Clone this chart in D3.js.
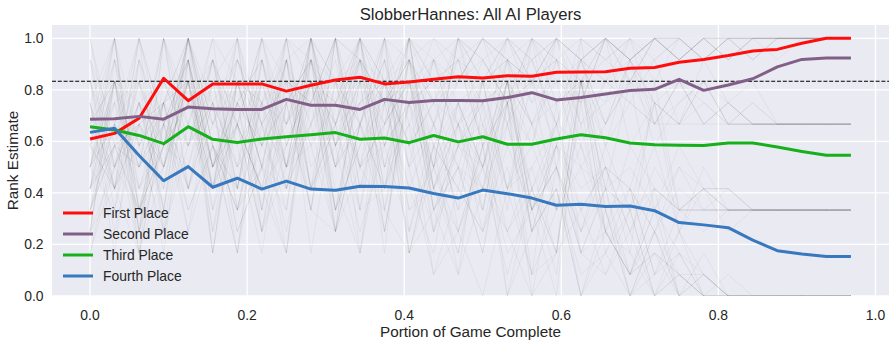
<!DOCTYPE html>
<html><head><meta charset="utf-8">
<script src="https://cdn.jsdelivr.net/npm/d3@7"></script>
<style>
html,body{margin:0;padding:0;background:#fff;}
text{font-family:"Liberation Sans",Arial,sans-serif;fill:#262626;}
</style></head>
<body><svg id="chart" width="895" height="343"></svg>
<script>
// ---- data ----
const nSteps = 32; // x = i/32
const firstPlace  = [0.609,0.631,0.690,0.845,0.758,0.823,0.823,0.823,0.795,0.818,0.838,0.849,0.823,0.830,0.841,0.851,0.846,0.855,0.853,0.868,0.869,0.870,0.884,0.887,0.907,0.918,0.933,0.951,0.957,0.981,1.0,1.0];
const secondPlace = [0.686,0.688,0.697,0.686,0.733,0.727,0.724,0.724,0.763,0.740,0.740,0.724,0.763,0.751,0.759,0.759,0.758,0.770,0.789,0.761,0.770,0.784,0.797,0.802,0.841,0.798,0.819,0.843,0.889,0.918,0.924,0.924];
const thirdPlace  = [0.657,0.644,0.623,0.591,0.657,0.608,0.596,0.609,0.618,0.626,0.634,0.608,0.613,0.595,0.623,0.598,0.618,0.589,0.589,0.609,0.626,0.614,0.594,0.587,0.585,0.584,0.594,0.594,0.578,0.561,0.546,0.546];
const fourthPlace = [0.635,0.651,0.545,0.447,0.502,0.422,0.457,0.415,0.446,0.415,0.410,0.426,0.425,0.419,0.398,0.380,0.411,0.397,0.380,0.352,0.356,0.347,0.349,0.331,0.285,0.276,0.265,0.217,0.176,0.163,0.153,0.153];
const seriesNames  = ["First Place","Second Place","Third Place","Fourth Place"];
const seriesColors = ["#ff0d0d","#825f87","#15b01a","#3778bf"];
const thresholdValue = 5/6;
const xTicks = [0.0,0.2,0.4,0.6,0.8,1.0];
const yTicks = [0.0,0.2,0.4,0.6,0.8,1.0];
// individual game trajectories (rank estimate in twelfths, base-13 digits)
const gameTraces = [
"8a6c9ac8cb9cacbcacbcbcacbcccbccc","69a7c8b9ca8b9cab9cabcbcacbcbcccc",
"5786a9b8a9cb8abacbab9cbcbccbcccc","a7c8b6a98cab9a8cb9cbacbccbcccccc",
"7b59a8c79bac9bcabcacbcbcbcbccccc","649a7b8a9b8cab9cabcabcbccbcbcccc",
"9c7a8ca9bca8cb9acbacbcabcbcccccc","b8c79b8ca9cba9cbacbcbacbccbccccc",
"6857a69b7a8c79a8b9a7ba9b8a9a8888","79686a5b8c7a9b7ac8a9b8a98b988888",
"5a797b68a9c8a7b9a8c9a7b8a9898888","8697c8a6b79a8cab79b8a9c89a888888",
"4768596a8b79a6b89a7c8ab98a898888","a6b8796c8a9b7c98ab89a8b9a8988888",
"7596a4857a6b58694a5765a465544444","5a476b596c4a79586b47a56475444444",
"68795a47b5896a479574a65364544444","3689475a5b79c684a568745354444444",
"9586c74a68b5a7965846374545344444","47695879a5c68a576958463544444444",
"6a58b697c5a87b596a47563645444444","7694a5836a4795284a37251420100000",
"58a6c7495b683a462935031401000000","9573b685a4c673846351924031000000",
"6a47958c6738b4527052413021000000","4869a5b794a68c537a46231210000000",
"85a6975b6c8459a36152a40210000000","5789c6a4b5837c462835041300000000",
"3528472a6c3859b7a4c6b8acbcbccccc","92b4c683a7c59b6c8bac9cbccbcccccc",
"c6a38b5c7a9c6b8acb9cacbcbcbccccc","4a2c7936b8c4a79bcab8cbaccccccccc",
"7c39b5a84c7b9a6cb9cbabccbccccccc","2649c5b839a6c8b79a8b7a98a8988888",
"b5c37a94c68b3a796b8a9c7989888888","5937b4a62c69a58b7c9a68b79a888888",
"8c46a29b5a7c4b86a97b89a888888888","3a6c8597b4c28a6c79a8b798a8988888",
"6b3a7c492a685b396a48362a45544444","a5c8372b6948c375a586354944444444",
"4826a5c39b47a2685a37465936444444","c7493a852b6c49375a84637544444444",
"3b7c59286a3b5c478362a54735444444","9385b2a64c7a396285a4735143444444",
"5c28a6937b4a2c583619250310000000","8a3c5b729438b6137240a31200000000",
"2748b3a6c57294630512c40120000000","b694c2a75836a2419035120301000000",
"6c47a385b296427153062140100000000","3a95c7468a52b7364902a31502000000",
"a4b7c93658a4c27539148320110000000","7582b6c49a3c681537460251300000000"
];

// ---- layout ----
const svg = d3.select("#chart");
const L = 52, R = 889, T = 25, B = 296;
const x = d3.scaleLinear().domain([-0.0484, 1.0172]).range([L, R]);
const y = d3.scaleLinear().domain([0, 1.0516]).range([B, T]);

svg.append("rect").attr("x",L).attr("y",T).attr("width",R-L).attr("height",B-T).attr("fill","#eaeaf2");
svg.append("defs").append("clipPath").attr("id","clip").append("rect")
  .attr("x",L).attr("y",T).attr("width",R-L).attr("height",B-T);

// grid
svg.append("g").selectAll("line").data(xTicks).join("line")
  .attr("x1",d=>x(d)).attr("x2",d=>x(d)).attr("y1",T).attr("y2",B)
  .attr("stroke","#fff").attr("stroke-width",1.3);
svg.append("g").selectAll("line").data(yTicks).join("line")
  .attr("x1",L).attr("x2",R).attr("y1",d=>y(d)).attr("y2",d=>y(d))
  .attr("stroke","#fff").attr("stroke-width",1.3);

const plot = svg.append("g").attr("clip-path","url(#clip)");
const line = d3.line().x((d,i)=>x(i/nSteps)).y(d=>y(d));

// background trajectories
plot.append("g").selectAll("path").data(gameTraces).join("path")
  .attr("d", s => line(s.slice(0, nSteps).split("").map(c => parseInt(c,13)/12)))
  .attr("fill","none").attr("stroke","#222").attr("stroke-opacity",0.08).attr("stroke-width",0.7);

// threshold
plot.append("line").attr("x1",L).attr("x2",R).attr("y1",y(thresholdValue)).attr("y2",y(thresholdValue))
  .attr("stroke","#000").attr("stroke-width",1.1).attr("stroke-dasharray","4,1.8");

// main series
const allSeries = [firstPlace, secondPlace, thirdPlace, fourthPlace];
plot.append("g").selectAll("path").data(allSeries).join("path")
  .attr("d", d => line(d))
  .attr("fill","none").attr("stroke",(d,i)=>seriesColors[i]).attr("stroke-width",3)
  .attr("stroke-linejoin","round");

// tick labels
svg.append("g").selectAll("text").data(xTicks).join("text")
  .attr("x",d=>x(d)).attr("y",320).attr("text-anchor","middle")
  .style("font-size","13.9px").text(d=>d3.format(".1f")(d));
svg.append("g").selectAll("text").data(yTicks).join("text")
  .attr("x",43.5).attr("y",d=>y(d)).attr("dy","0.35em").attr("text-anchor","end")
  .style("font-size","13.9px").text(d=>d3.format(".1f")(d));

// axis labels and title
svg.append("text").attr("x",(L+R)/2).attr("y",337).attr("text-anchor","middle")
  .style("font-size","15.3px").text("Portion of Game Complete");
svg.append("text").attr("transform","translate(13,"+((T+B)/2)+") rotate(-90)").attr("dy","0.35em").attr("text-anchor","middle")
  .style("font-size","15.3px").text("Rank Estimate");
svg.append("text").attr("x",(L+R)/2).attr("y",20).attr("text-anchor","middle")
  .style("font-size","16.7px").text("SlobberHannes: All AI Players");

// legend
const lg = svg.append("g").selectAll("g").data(seriesNames).join("g")
  .attr("transform",(d,i)=>`translate(63,${213 + i*21})`);
lg.append("line").attr("x1",0).attr("x2",30).attr("stroke",(d,i)=>seriesColors[i]).attr("stroke-width",3);
lg.append("text").attr("x",40).attr("dy","0.35em").style("font-size","13.9px").text(d=>d);
</script></body></html>
